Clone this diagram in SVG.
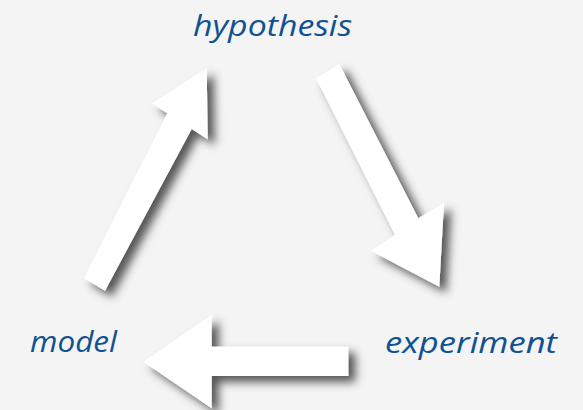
<svg xmlns="http://www.w3.org/2000/svg" width="583" height="410" viewBox="0 0 583 410">
  <style>
    .lbl { font-family: "Open Sans", "DejaVu Sans", sans-serif; font-style: italic; font-size: 30px; fill: #0f5193; }
    .arr { fill: #ffffff; filter: url(#sh); }
  </style>
  <defs>
    <filter id="sh" x="-30%" y="-30%" width="160%" height="160%">
      <feDropShadow dx="7" dy="6" stdDeviation="5" flood-color="#000" flood-opacity="0.65"/>
    </filter>
  </defs>
  <rect width="583" height="410" fill="#f4f4f4"/>
  <g id="hypothesis"><text class="lbl" x="193" y="36" textLength="159" lengthAdjust="spacingAndGlyphs">hypothesis</text></g>
  <g id="model"><text class="lbl" x="30" y="352" textLength="87" lengthAdjust="spacingAndGlyphs">model</text></g>
  <g id="experiment"><text class="lbl" x="385" y="353" textLength="172" lengthAdjust="spacingAndGlyphs">experiment</text></g>
  <g id="connectors">
    <polygon class="arr" points="206.7,68.3 207.7,139.3 191.7,129 105,290.7 84,278.3 167.3,113.3 151.7,103.3"/>
    <polygon class="arr" points="316,78.3 339.3,64 418.3,218.3 444,202.7 439.3,286.7 370.7,250.7 395,235"/>
    <polygon class="arr" points="348.3,346.7 348.3,376 211.7,376 211.7,408.3 143.3,361.7 211.7,315 211.7,346.7"/>
  </g>
</svg>
